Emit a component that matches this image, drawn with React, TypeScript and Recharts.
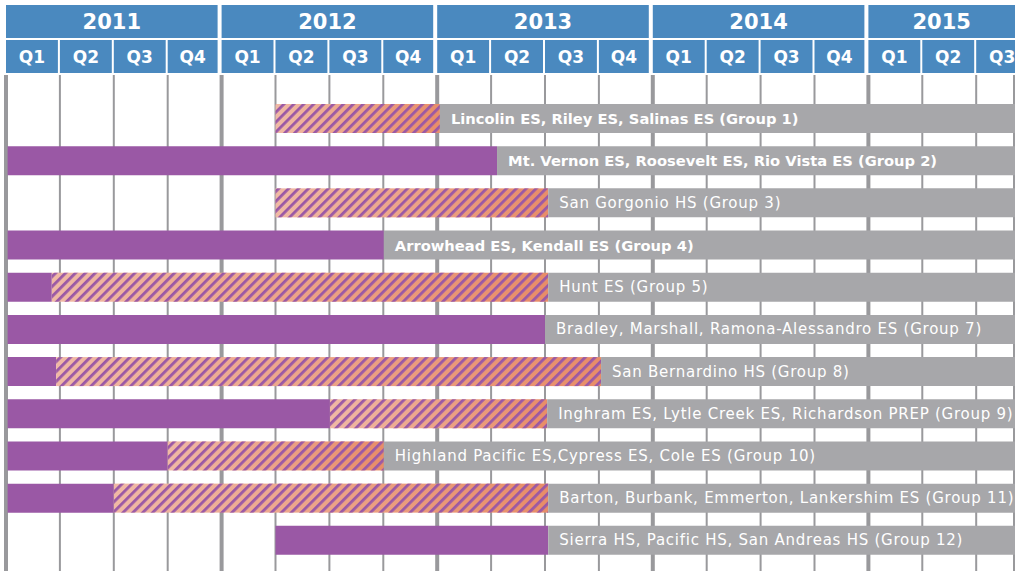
import React from 'react';
import { Bar, BarChart, CartesianGrid, LabelList, XAxis, YAxis } from 'recharts';

// timeline: quarters counted from 2011 Q1 = 0
const YEARS = ['2011', '2012', '2013', '2014', '2015'];
const QUARTERS = ['Q1', 'Q2', 'Q3', 'Q4'];

const SCHOOLS = [
  'Lincolin ES, Riley ES, Salinas ES (Group 1)',
  'Mt. Vernon ES, Roosevelt ES, Rio Vista ES (Group 2)',
  'San Gorgonio HS (Group 3)',
  'Arrowhead ES, Kendall ES (Group 4)',
  'Hunt ES (Group 5)',
  'Bradley, Marshall, Ramona-Alessandro ES (Group 7)',
  'San Bernardino HS (Group 8)',
  'Inghram ES, Lytle Creek ES, Richardson PREP (Group 9)',
  'Highland Pacific ES,Cypress ES, Cole ES (Group 10)',
  'Barton, Burbank, Emmerton, Lankershim ES (Group 11)',
  'Sierra HS, Pacific HS, San Andreas HS (Group 12)',
];
const BOLD = [true, true, false, true, false, false, false, false, false, false, false];

const START = [5, 0.03, 5, 0.03, 0.03, 0.03, 0.03, 0.03, 0.03, 0.03, 5];
const PURPLE_END = [5, 9.11, 5, 7.01, 0.85, 10.0, 0.93, 6.01, 3.0, 2.0, 10.06];
const HATCH_END = [8.05, 9.11, 10.06, 7.01, 10.06, 10.0, 11.04, 10.04, 7.01, 10.06, 10.06];
const TIMELINE_END = 20;

const W = 1015;
const H = 571;
const LEFT = 6;
const DOMAIN_MAX = 18.72;
const PX = (W - LEFT) / DOMAIN_MAX;

const BLUE = '#4a89bf';
const PURPLE = '#9a58a5';
const GRAY = '#a7a7aa';
const LINE = '#99999c';
const FONT = '"DejaVu Sans", sans-serif';

const data = SCHOOLS.map((name, i) => ({
  name,
  offset: START[i],
  purple: PURPLE_END[i] - START[i],
  hatch: HATCH_END[i] - PURPLE_END[i],
  gray: TIMELINE_END - HATCH_END[i],
}));

const headTicks = YEARS.flatMap((_, y) => QUARTERS.map((_, q) => y * 4 + q + 0.5)).filter((t) => t < DOMAIN_MAX);
const quarterLines = YEARS.flatMap((_, y) => QUARTERS.map((_, q) => y * 4 + q)).filter((t) => t % 4 !== 0 && t < DOMAIN_MAX);
const yearLines = YEARS.map((_, y) => y * 4).filter((t) => t < DOMAIN_MAX);

function HeaderTick(props: any) {
  const { x, payload } = props;
  const i = Math.floor(payload.value);
  const q = i % 4;
  const year = Math.floor(i / 4);
  const left = x - PX / 2;
  const qRight = left + PX - (q === 3 ? 4 : 2);
  const yRight = left + 4 * PX - 4;
  const yCenter = (left + Math.min(yRight, W)) / 2;
  return (
    <g>
      {q === 0 && (
        <g>
          <rect x={left} y={5} width={yRight - left} height={33} fill={BLUE} />
          <text x={yCenter} y={22} textAnchor="middle" dominantBaseline="central" fill="#fff"
            fontFamily={FONT} fontWeight={700} fontSize={21}>{YEARS[year]}</text>
        </g>
      )}
      <rect x={left} y={40} width={qRight - left} height={33} fill={BLUE} />
      <text x={(left + qRight) / 2} y={57} textAnchor="middle" dominantBaseline="central" fill="#fff"
        fontFamily={FONT} fontWeight={700} fontSize={17}>{QUARTERS[q]}</text>
    </g>
  );
}

function HatchShape(props: any) {
  const { x, y, width, height } = props;
  if (!width || width <= 0) return null;
  return (
    <g>
      <rect x={x} y={y} width={width} height={height} fill="url(#hatchFade)" />
      <rect x={x} y={y} width={width} height={height} fill="url(#stripes)" />
    </g>
  );
}

function SchoolLabel(props: any) {
  const { x, y, height, value, index } = props;
  const idx = typeof index === 'number' ? index : SCHOOLS.indexOf(value);
  const bold = BOLD[idx];
  return (
    <text x={x + 11} y={y + height / 2} dominantBaseline="central" fill="#fff" fontFamily={FONT}
      fontSize={bold ? 14.7 : 15} fontWeight={bold ? 700 : 400} letterSpacing={bold ? 0 : 0.75}>
      {SCHOOLS[idx]}
    </text>
  );
}

export default function App() {
  return (
    <div style={{ position: 'absolute', left: 0, top: 0, width: W, height: H, overflow: 'hidden', background: '#fff' }}>
      <BarChart width={W} height={H} data={data} layout="vertical" barSize={29}
        margin={{ top: 0, right: 0, bottom: 0, left: LEFT }}>
        <defs>
          <linearGradient id="hatchFade" x1="0" y1="0" x2="1" y2="0">
            <stop offset="0%" stopColor="#f0b9a5" />
            <stop offset="100%" stopColor="#e88d68" />
          </linearGradient>
          <pattern id="stripes" patternUnits="userSpaceOnUse" width={7} height={7} patternTransform="rotate(45)">
            <rect x={0} y={0} width={2.8} height={7} fill={PURPLE} />
          </pattern>
        </defs>
        <XAxis xAxisId="head" type="number" orientation="top" domain={[0, DOMAIN_MAX]} allowDataOverflow
          ticks={headTicks} interval={0} height={75} axisLine={false} tickLine={false} tick={<HeaderTick />} />
        <XAxis xAxisId="qgrid" type="number" domain={[0, DOMAIN_MAX]} allowDataOverflow ticks={quarterLines} hide />
        <XAxis xAxisId="ygrid" type="number" domain={[0, DOMAIN_MAX]} allowDataOverflow ticks={yearLines} hide />
        <YAxis type="category" dataKey="name" hide padding={{ top: 22, bottom: 10 }} />
        <CartesianGrid xAxisId="qgrid" horizontal={false} stroke={LINE} strokeWidth={2} />
        <CartesianGrid xAxisId="ygrid" horizontal={false} stroke={LINE} strokeWidth={4} />
        <Bar xAxisId="head" dataKey="offset" stackId="t" fill="transparent" isAnimationActive={false} />
        <Bar xAxisId="head" dataKey="purple" stackId="t" fill={PURPLE} isAnimationActive={false} />
        <Bar xAxisId="head" dataKey="hatch" stackId="t" shape={<HatchShape />} isAnimationActive={false} />
        <Bar xAxisId="head" dataKey="gray" stackId="t" fill={GRAY} isAnimationActive={false}>
          <LabelList dataKey="name" content={<SchoolLabel />} />
        </Bar>
      </BarChart>
    </div>
  );
}
